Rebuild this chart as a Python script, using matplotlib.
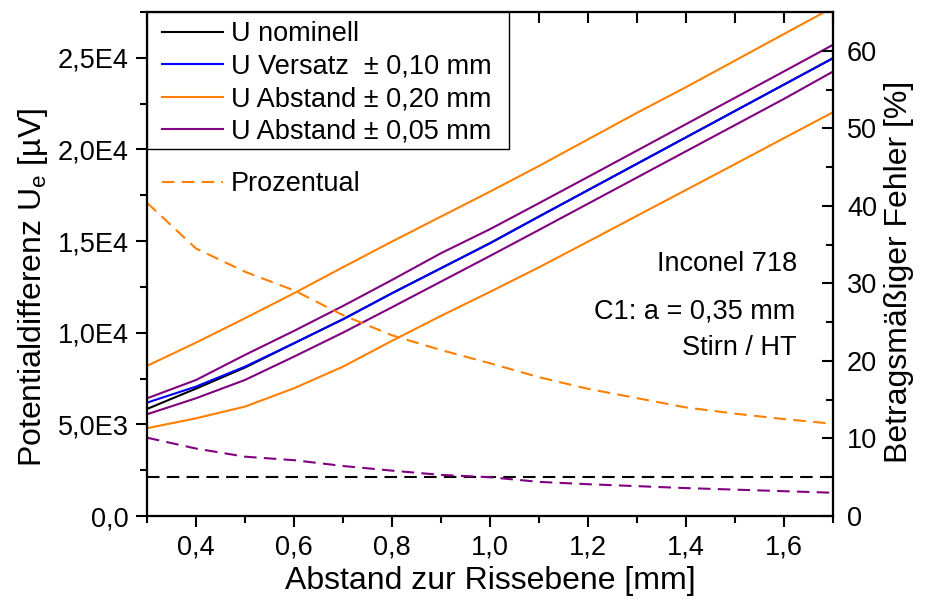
import numpy as np
import matplotlib
matplotlib.use("Agg")
import matplotlib.pyplot as plt
from matplotlib.ticker import MultipleLocator, FuncFormatter, NullLocator
from matplotlib.lines import Line2D
from matplotlib.patches import Rectangle

plt.rcParams['font.family'] = ['Liberation Sans', 'DejaVu Sans']
plt.rcParams['font.size'] = 19.5

# Abstand zur Rissebene [mm]
abstand = [0.3, 0.4, 0.5, 0.6, 0.7, 0.8, 0.9, 1.0, 1.1, 1.2, 1.3, 1.4, 1.5, 1.6, 1.7]

# Potentialdifferenz [µV]
u_nominell = [5840, 6950, 8100, 9425, 10735, 12155, 13520, 14885, 16340, 17780, 19220, 20660, 22100, 23540, 24980]
u_versatz = [6184, 7060, 8150, 9425, 10735, 12155, 13520, 14885, 16340, 17780, 19220, 20660, 22100, 23540, 24980]
u_abst20_plus = [8190, 9460, 10790, 12155, 13575, 14975, 16340, 17700, 19100, 20550, 22000, 23400, 24850, 26300, 27750]
u_abst20_minus = [4790, 5330, 5970, 6970, 8150, 9560, 10920, 12230, 13570, 14970, 16380, 17790, 19200, 20620, 22030]
u_abst05_plus = [6420, 7420, 8790, 10100, 11460, 12880, 14340, 15650, 17070, 18500, 19940, 21380, 22820, 24260, 25710]
u_abst05_minus = [5550, 6424, 7424, 8696, 10006, 11390, 12790, 14190, 15610, 17040, 18470, 19900, 21330, 22760, 24250]

# Betragsmäßiger Fehler [%]
fehler_versatz = [5.0] * len(abstand)
fehler_abst20 = [40.4, 34.5, 31.5, 29.1, 25.9, 23.3, 21.4, 19.7, 17.9, 16.4, 15.2, 14.0, 13.2, 12.5, 11.9]
fehler_abst05 = [10.1, 8.7, 7.65, 7.2, 6.45, 5.85, 5.3, 5.0, 4.4, 4.1, 3.85, 3.6, 3.4, 3.2, 3.0]

orange = '#ff8000'
purple = '#800080'
blue = '#0000ff'
lw = 1.5
dash = (6, 3.5)


def fmt_left(v, pos):
    if v == 0:
        return '0,0'
    e = int(np.floor(np.log10(abs(v))))
    m = v / 10 ** e
    return ('%.1fE%d' % (m, e)).replace('.', ',')


def fmt_x(v, pos):
    return ('%.1f' % v).replace('.', ',')


fig = plt.figure(figsize=(9.28, 6.04), dpi=100)
ax = fig.add_axes([147 / 928, 1 - 516 / 604, 686 / 928, 504 / 604])
ax2 = ax.twinx()
ax3 = ax.twiny()

ax.plot(abstand, u_nominell, color='black', lw=lw)
ax.plot(abstand, u_abst20_plus, color=orange, lw=lw)
ax.plot(abstand, u_abst20_minus, color=orange, lw=lw)
ax.plot(abstand, u_abst05_plus, color=purple, lw=lw)
ax.plot(abstand, u_abst05_minus, color=purple, lw=lw)
ax.plot(abstand, u_versatz, color=blue, lw=lw)

ax2.plot(abstand, fehler_versatz, color='black', lw=lw, dashes=dash)
ax2.plot(abstand, fehler_abst20, color=orange, lw=lw, dashes=dash)
ax2.plot(abstand, fehler_abst05, color=purple, lw=lw, dashes=dash)

ax.set_xlim(0.3, 1.7)
ax3.set_xlim(0.3, 1.7)
ax.set_ylim(0, 27500)
ax2.set_ylim(0, 65)

for a in (ax, ax2, ax3):
    for s in a.spines.values():
        s.set_linewidth(1.5)

ax.xaxis.set_major_locator(MultipleLocator(0.2))
ax.xaxis.set_minor_locator(MultipleLocator(0.1))
ax.xaxis.set_major_formatter(FuncFormatter(fmt_x))
ax.yaxis.set_major_locator(MultipleLocator(5000))
ax.yaxis.set_minor_locator(MultipleLocator(2500))
ax.yaxis.set_major_formatter(FuncFormatter(fmt_left))
ax.tick_params(which='major', direction='out', length=8, width=1.5, pad=5)
ax.tick_params(which='minor', direction='out', length=5, width=1.5)

ax2.yaxis.set_major_locator(MultipleLocator(10))
ax2.yaxis.set_minor_locator(MultipleLocator(5))
ax2.tick_params(which='major', direction='in', length=8, width=1.5, pad=10)
ax2.tick_params(which='minor', direction='in', length=5, width=1.5)

# Obere Achse: Striche nach innen, ohne Beschriftung
ax3.xaxis.set_major_locator(MultipleLocator(0.1))
ax3.xaxis.set_minor_locator(NullLocator())
ax3.tick_params(axis='x', which='major', top=True, bottom=False, direction='in',
                length=8, width=1.5, color='black', labeltop=False, labelbottom=False)

ax.set_xlabel('Abstand zur Rissebene [mm]', fontsize=23, labelpad=4)
ax.set_ylabel('Potentialdifferenz U$_\\mathregular{e}$ [µV]', fontsize=23)
ax.yaxis.set_label_coords(-0.1418, 0.454)
ax2.set_ylabel('Betragsmäßiger Fehler [%]', fontsize=23)
ax2.yaxis.set_label_coords(1.074, 0.484)

ax.text(0.9475, 0.50, 'Inconel 718', transform=ax.transAxes, ha='right', va='center')
ax.text(0.945, 0.405, 'C1: a = 0,35 mm', transform=ax.transAxes, ha='right', va='center')
ax.text(0.9475, 0.333, 'Stirn / HT', transform=ax.transAxes, ha='right', va='center')

# Legende mit eigenem Rahmen
ax3.add_patch(Rectangle((0, 1), 362 / 686, -137 / 504, transform=ax3.transAxes,
                        facecolor='white', edgecolor='black', lw=1.0, zorder=5))
handles = [Line2D([], [], color='black', lw=lw),
           Line2D([], [], color=blue, lw=lw),
           Line2D([], [], color=orange, lw=lw),
           Line2D([], [], color=purple, lw=lw)]
labels = ['U nominell', 'U Versatz  ± 0,10 mm', 'U Abstand ± 0,20 mm', 'U Abstand ± 0,05 mm']
leg = ax3.legend(handles, labels, loc='upper left', bbox_to_anchor=(15 / 686, 1 - 9 / 504),
                 borderaxespad=0, frameon=False, handlelength=2.25,
                 handletextpad=0.3, labelspacing=0.24, borderpad=0)
leg.set_zorder(6)
ax3.add_artist(leg)
leg2 = ax3.legend([Line2D([], [], color=orange, lw=lw, dashes=dash)], ['Prozentual'],
                  loc='upper left', bbox_to_anchor=(15 / 686, 1 - 159 / 504), borderaxespad=0,
                  frameon=False, handlelength=2.25, handletextpad=0.3, borderpad=0)
leg2.set_zorder(6)

fig.savefig('out.png', dpi=100)
